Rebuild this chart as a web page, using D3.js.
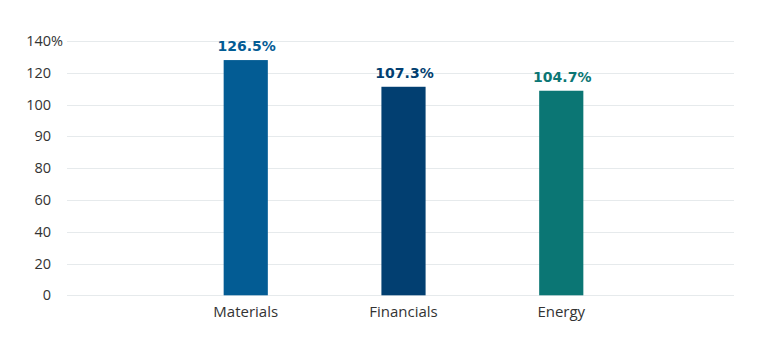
<!DOCTYPE html>
<html lang="en">

<head>
    <meta charset="UTF-8" />
    <title>Sector bars</title>
    <script src="https://d3js.org/d3.v7.js"></script>
    <style>
        body { margin: 0; background: #fff; }
        text { font-family: "Open Sans", "Noto Sans", sans-serif; }
        .val { font-family: "DejaVu Sans", sans-serif; }
    </style>
</head>

<body>
    <svg id="chart"></svg>
</body>

<script>
    // data
    var categories = ["Materials", "Financials", "Energy"];
    var barValues = [128.0, 111.2, 108.7];          // bar tops against the axis
    var valueLabels = ["126.5%", "107.3%", "104.7%"];
    var barColors = ["#035c94", "#023f71", "#0b7674"];
    var tickValues = [0, 20, 40, 60, 80, 90, 100, 120, 140];

    var width = 767;
    var height = 354;

    var svg = d3.select("#chart")
        .attr("width", width)
        .attr("height", height);

    // axis labels are evenly spaced, so map them piecewise
    var yTop = 41, yBottom = 295.3;
    var y = d3.scaleLinear()
        .domain(tickValues)
        .range(tickValues.map((d, i) => yBottom - i * (yBottom - yTop) / (tickValues.length - 1)));

    var x = d3.scaleBand()
        .domain(categories)
        .range([70, 737])
        .paddingInner(0.72)
        .paddingOuter(0.974);

    // gridlines
    svg.append("g").selectAll("line")
        .data(tickValues)
        .enter()
        .append("line")
        .attr("x1", 67)
        .attr("x2", 734)
        .attr("y1", d => Math.round(y(d)) + 0.5)
        .attr("y2", d => Math.round(y(d)) + 0.5)
        .attr("stroke", "#e6eaec")
        .attr("stroke-width", 1);

    // y labels
    var yl = svg.append("g");
    yl.selectAll("text")
        .data(tickValues)
        .enter()
        .append("text")
        .attr("x", 51)
        .attr("y", d => y(d))
        .attr("dy", "0.35em")
        .attr("text-anchor", "end")
        .attr("font-size", 14.5)
        .attr("fill", "#333")
        .text(d => d);
    yl.append("text")
        .attr("x", 51)
        .attr("y", y(140))
        .attr("dy", "0.35em")
        .attr("font-size", 14.5)
        .attr("fill", "#333")
        .text("%");

    // bars
    svg.append("g").selectAll("rect")
        .data(categories)
        .enter()
        .append("rect")
        .attr("x", d => x(d))
        .attr("width", x.bandwidth())
        .attr("y", (d, i) => y(barValues[i]))
        .attr("height", (d, i) => y(0) - y(barValues[i]))
        .attr("fill", (d, i) => barColors[i]);

    // value labels
    svg.append("g").selectAll("text")
        .data(categories)
        .enter()
        .append("text")
        .attr("class", "val")
        .attr("x", d => x(d) + x.bandwidth() / 2 + 1)
        .attr("y", (d, i) => y(barValues[i]) - 9)
        .attr("text-anchor", "middle")
        .attr("font-size", 14)
        .attr("font-weight", "bold")
        .attr("fill", (d, i) => barColors[i])
        .text((d, i) => valueLabels[i]);

    // category labels
    svg.append("g").selectAll("text")
        .data(categories)
        .enter()
        .append("text")
        .attr("x", d => x(d) + x.bandwidth() / 2)
        .attr("y", 316.5)
        .attr("text-anchor", "middle")
        .attr("font-size", 15)
        .attr("fill", "#333")
        .text(d => d);
</script>

</html>
